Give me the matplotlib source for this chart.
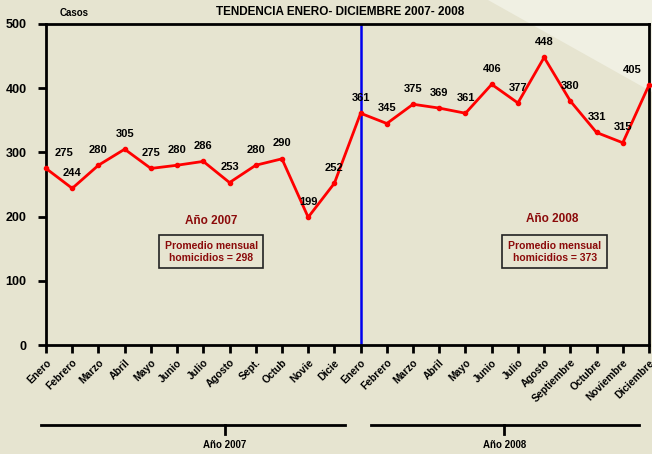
import matplotlib
matplotlib.use("Agg")
import matplotlib.pyplot as plt
from matplotlib.patches import Polygon
import matplotlib.transforms as mtransforms

plt.rcParams['font.family'] = ['Liberation Sans', 'DejaVu Sans']
plt.rcParams['font.weight'] = 'bold'

months_2007 = ["Enero", "Febrero", "Marzo", "Abril", "Mayo", "Junio", "Julio",
               "Agosto", "Sept.", "Octub", "Novie", "Dicie"]
months_2008 = ["Enero", "Febrero", "Marzo", "Abril", "Mayo", "Junio", "Julio",
               "Agosto", "Septiembre", "Octubre", "Noviembre", "Diciembre"]
values_2007 = [275, 244, 280, 305, 275, 280, 286, 253, 280, 290, 199, 252]
values_2008 = [361, 345, 375, 369, 361, 406, 377, 448, 380, 331, 315, 405]
yticks = [0, 100, 200, 300, 400, 500]
avg_2007 = 298
avg_2008 = 373

labels = months_2007 + months_2008
values = values_2007 + values_2008
x = list(range(len(values)))

W, H = 652, 454
bg = '#E6E4D0'
light = '#F0F0E3'
darkred = '#8B0A0A'

fig = plt.figure(figsize=(W / 100, H / 100), dpi=100)
fig.patch.set_facecolor(bg)
# lighter diagonal region top-right
poly = Polygon([(488 / W, 1), (1, 1), (1, 1 - 92 / H)], closed=True,
               transform=fig.transFigure, facecolor=light, edgecolor='none', zorder=-5)
fig.patches.append(poly)

L, R, T, B = 46, 649, 24, 345
ax = fig.add_axes([L / W, (H - B) / H, (R - L) / W, (B - T) / H])
ax.set_zorder(1)
ax.set_facecolor('none')
ax.set_xlim(0, len(values) - 1)
ax.set_ylim(0, 500)

for s in ax.spines.values():
    s.set_linewidth(2)
    s.set_color('black')

ax.set_yticks(yticks)
ax.set_yticklabels([str(v) for v in yticks], fontsize=9, fontweight='bold')
ax.set_xticks(x)
ax.set_xticklabels(labels, rotation=45, ha='right', rotation_mode='anchor',
                   fontsize=7.4, fontweight='bold')
ax.tick_params(axis='both', direction='out', length=6, width=2, colors='black')
ax.tick_params(axis='x', pad=3)
ax.tick_params(axis='y', pad=8)

# separator line
ax.axvline(12, color='#0000EE', lw=1.8, zorder=2)

ax.plot(x, values, color='#FF0000', lw=2, marker='o', markersize=3, zorder=3, clip_on=False)

for i, v in enumerate(values):
    dx = 0
    if i == 0:
        dx = 18
    elif i == len(values) - 1:
        dx = -17
    ax.annotate(str(v), (i, v), xytext=(dx * 0.72, 7.5), textcoords='offset points',
                ha='center', va='bottom', fontsize=8, fontweight='bold', zorder=4,
                annotation_clip=False)

# year annotations inside plot
ax.text(6.3, 193, "Año 2007", color=darkred, fontsize=8.5, fontweight='bold', ha='center', va='center')
ax.text(19.3, 197, "Año 2008", color=darkred, fontsize=8.5, fontweight='bold', ha='center', va='center')
box = dict(boxstyle='square,pad=0.55', facecolor='none', edgecolor='#222222', lw=1.2)
ax.text(6.3, 145, "Promedio mensual\nhomicidios = %d" % avg_2007, color=darkred, fontsize=7.5,
        fontweight='bold', ha='center', va='center', bbox=box, linespacing=1.2)
ax.text(19.4, 145, "Promedio mensual\nhomicidios = %d" % avg_2008, color=darkred, fontsize=7.5,
        fontweight='bold', ha='center', va='center', bbox=box, linespacing=1.2)

# bottom year brackets
tr = mtransforms.blended_transform_factory(ax.transData, fig.transFigure)
yl = 1 - 425 / H
yt = 1 - 434 / H
ax.plot([-0.2, 11.42], [yl, yl], color='black', lw=2, transform=tr, clip_on=False)
ax.plot([6.82, 6.82], [yl, yt], color='black', lw=2, transform=tr, clip_on=False)
ax.text(6.82, 1 - 445 / H, "Año 2007", transform=tr, ha='center', va='center', fontsize=7, fontweight='bold')
ax.plot([12.41, 22.6], [yl, yl], color='black', lw=2, transform=tr, clip_on=False)
ax.plot([17.48, 17.48], [yl, yt], color='black', lw=2, transform=tr, clip_on=False)
ax.text(17.48, 1 - 445 / H, "Año 2008", transform=tr, ha='center', va='center', fontsize=7, fontweight='bold')

fig.text(340 / W, 1 - 12 / H, "TENDENCIA ENERO- DICIEMBRE 2007- 2008", ha='center', va='center',
         fontsize=8.5, fontweight='bold')
fig.text(60 / W, 1 - 13 / H, "Casos", ha='left', va='center', fontsize=7, fontweight='bold')

fig.savefig("out.png", dpi=100, facecolor=fig.get_facecolor())
